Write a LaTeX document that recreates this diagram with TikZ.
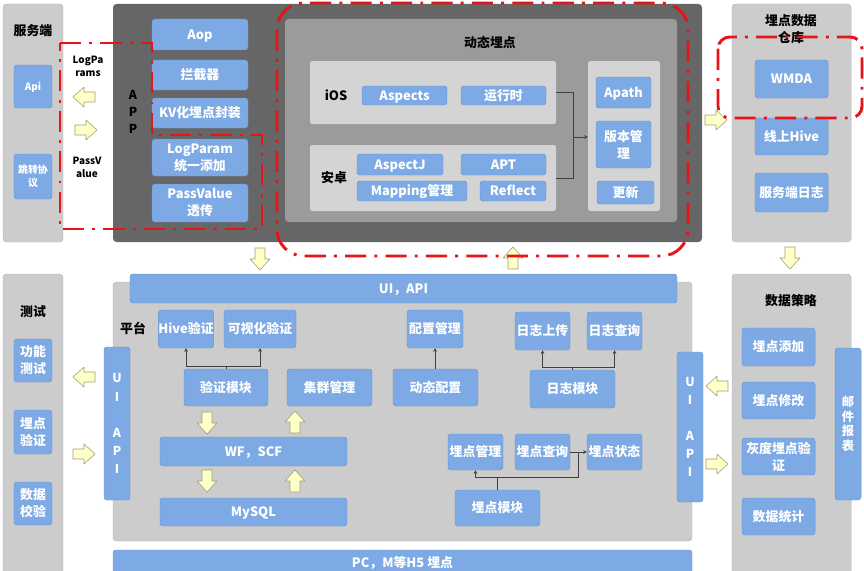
\documentclass[tikz,border=0pt]{standalone}
\usepackage{fontspec}
\setmainfont{Noto Sans CJK SC}
\usetikzlibrary{arrows.meta}

\definecolor{blufill}{RGB}{125,170,228}
\definecolor{bluline}{RGB}{104,148,206}
\definecolor{pnlfill}{RGB}{204,204,204}
\definecolor{pnlline}{RGB}{182,182,182}
\definecolor{appfill}{RGB}{102,102,102}
\definecolor{dynfill}{RGB}{155,155,155}
\definecolor{subfill}{RGB}{212,212,212}
\definecolor{yelfill}{RGB}{255,255,200}
\definecolor{yelline}{RGB}{160,160,120}
\definecolor{redline}{RGB}{230,20,25}

\newcommand{\boxfont}{\fontsize{11pt}{14.5pt}\selectfont}
\newcommand{\ttlfont}{\fontsize{11pt}{14.5pt}\selectfont}
\newcommand{\smlfont}{\fontsize{8.5pt}{11pt}\selectfont}
\newcommand{\vertfont}{\fontsize{10.5pt}{15.4pt}\selectfont}

\tikzset{
  pnl/.style={draw=pnlline, fill=pnlfill, rounded corners=3pt, inner sep=0pt},
  blkbase/.style={draw=bluline, fill=blufill, rounded corners=2.5pt, inner sep=0pt,
    text=white, font=\boxfont\bfseries},
  blk/.style={blkbase, text height=9pt, text depth=1pt},
  blkm/.style={blkbase, align=center},
  ttl/.style={font=\ttlfont\bfseries, align=center},
  con/.style={draw=black!75, line width=0.6pt, -{Stealth[length=3pt,width=3pt]}},
  redbox/.style={draw=redline, line width=2.5pt, dash pattern=on 18pt off 7pt on 2.5pt off 7pt},
  yarr/.style={draw=yelline, fill=yelfill, line width=0.5pt, line join=round},
}
% box from corner (x1,y1) to corner (x2,y2), in pixels of the picture
\newcommand{\bx}[7]{\node[#1, minimum width={(#5-#3)*0.3mm}, minimum height={(#6-#4)*0.3mm}]
  (#2) at ({(#3+#5)/2},{(#4+#6)/2}) {#7};}
% block arrow: centre x, centre y, direction (0 right, 90 up, 180 left, 270 down)
\newcommand{\yelarrow}[3]{\draw[yarr, shift={(#1,#2)}, rotate=#3]
  (-11,-5)--(0,-5)--(0,-10)--(11,0)--(0,10)--(0,5)--(-11,5)--cycle;}

\begin{document}
\begin{tikzpicture}[x=0.3mm,y=-0.3mm]
  \useasboundingbox (0,0) rectangle (864,570);
  \clip (0,0) rectangle (864,570);

  % server side
  \bx{pnl}{srv}{3}{4}{63}{242}{}
  \node[ttl] (srvt) at (33,31) {服务端};
  \bx{blk, font=\smlfont\bfseries, text height=7pt, text depth=0.8pt}{api}{14}{65}{52}{108}{Api}
  \bx{blkm, font=\smlfont\bfseries}{jump}{14}{154}{52}{199}{跳转协\\议}
  \node[font=\smlfont\bfseries, align=center] (lpar) at (88,66) {LogPa\\rams};
  \node[font=\smlfont\bfseries, align=center] (pval) at (87,167) {PassV\\alue};
  \yelarrow{84}{97}{180}
  \yelarrow{86}{130}{0}

  % app
  \bx{pnl, draw=none, fill=appfill}{app}{113}{4}{702}{242}{}
  \node[font=\vertfont\bfseries, align=center, inner sep=0pt] (appt) at (133,112) {A\\[-1pt]P\\[-1pt]P};
  \bx{blk}{aop}{152}{19}{248}{50}{Aop}
  \bx{blk}{intc}{152}{60}{248}{90}{拦截器}
  \bx{blk}{kv}{152}{98}{248}{128}{KV化埋点封装}
  \bx{blkm}{logp}{152}{139}{248}{176}{LogParam\\统一添加}
  \bx{blkm}{passv}{152}{184}{248}{222}{PassValue\\透传}

  % dynamic tracking
  \bx{pnl, draw=none, fill=dynfill}{dyn}{285}{19}{677}{222}{}
  \node[ttl] (dynt) at (490,43) {动态埋点};
  \bx{pnl, draw=none, fill=subfill, rounded corners=2pt}{iospnl}{310}{61}{556}{124}{}
  \node[ttl] (iost) at (336,95) {iOS};
  \bx{blk}{aspects}{362}{86}{447}{105}{Aspects}
  \bx{blk}{runtime}{461}{86}{546}{105}{运行时}
  \bx{pnl, draw=none, fill=subfill, rounded corners=2pt}{adrpnl}{310}{145}{556}{211}{}
  \node[ttl] (adrt) at (334,178) {安卓};
  \bx{blk}{aspectj}{357}{154}{443}{175}{AspectJ}
  \bx{blk}{apt}{461}{154}{546}{175}{APT}
  \bx{blk}{mapping}{357}{181}{467}{201}{Mapping管理}
  \bx{blk}{reflect}{480}{181}{546}{201}{Reflect}
  \bx{pnl, draw=none, fill=subfill, rounded corners=2pt}{rtpnl}{588}{61}{660}{211}{}
  \bx{blk}{apath}{596}{77}{651}{108}{Apath}
  \bx{blkm}{version}{596}{121}{651}{168}{版本管\\理}
  \bx{blk}{update}{597}{181}{654}{204}{更新}
  \coordinate (jn) at (573,137);
  \draw[con, -] (iospnl.east) -| (jn);
  \draw[con, -] (adrpnl.east) -| (jn);
  \draw[con] (jn) -- (rtpnl.west |- jn);

  % warehouse
  \bx{pnl}{wh}{732}{4}{851}{242}{}
  \node[ttl] (wht) at (791,29) {埋点数据\\仓库};
  \bx{blk}{wmda}{755}{60}{828}{98}{WMDA}
  \bx{blk}{hive}{755}{118}{828}{155}{线上Hive}
  \bx{blk}{srvlog}{755}{173}{828}{212}{服务端日志}
  \yelarrow{716}{120}{0}

  % arrows between rows
  \yelarrow{260}{259}{270}
  \yelarrow{513}{258}{90}
  \yelarrow{790}{258}{270}

  % test
  \bx{pnl}{test}{3}{274}{63}{590}{}
  \node[ttl] (testt) at (33,312) {测试};
  \bx{blkm}{func}{14}{339}{52}{382}{功能\\测试}
  \bx{blkm}{ptchk}{14}{410}{52}{454}{埋点\\验证}
  \bx{blkm}{datachk}{14}{482}{52}{525}{数据\\校验}
  \yelarrow{84}{377}{180}
  \yelarrow{84}{454}{0}

  % platform
  \bx{pnl}{plat}{113}{282}{692}{541}{}
  \bx{blk}{uiapi}{130}{274}{677}{303}{UI，API}
  \node[ttl] (platt) at (133,328) {平台};
  \bx{blkm, font=\vertfont\bfseries}{leftui}{104}{347}{130}{500}{U\\I\\[15.4pt]A\\P\\I}
  \bx{blk}{hivechk}{159}{310}{213}{348}{Hive验证}
  \bx{blk}{vischk}{224}{310}{296}{348}{可视化验证}
  \bx{blk}{chkmod}{184}{369}{268}{406}{验证模块}
  \bx{blk}{cluster}{287}{369}{372}{406}{集群管理}
  \bx{blk}{wfscf}{160}{437}{347}{466}{WF，SCF}
  \bx{blk}{mysql}{160}{498}{347}{526}{MySQL}
  \bx{blk}{cfgmgr}{407}{310}{463}{348}{配置管理}
  \bx{blk}{dyncfg}{393}{369}{478}{406}{动态配置}
  \bx{blk}{logup}{515}{312}{570}{350}{日志上传}
  \bx{blk}{logqry}{587}{312}{642}{350}{日志查询}
  \bx{blk}{logmod}{530}{370}{615}{408}{日志模块}
  \bx{blk}{ptmgr}{448}{434}{503}{470}{埋点管理}
  \bx{blk}{ptqry}{515}{434}{570}{470}{埋点查询}
  \bx{blk}{ptstat}{587}{434}{642}{470}{埋点状态}
  \bx{blk}{ptmod}{455}{490}{540}{526}{埋点模块}
  \bx{blkm, font=\vertfont\bfseries}{rightui}{677}{352}{703}{502}{U\\I\\[15.4pt]A\\P\\I}
  \yelarrow{207}{423}{270}
  \yelarrow{295}{422}{90}
  \yelarrow{207}{481}{270}
  \yelarrow{295}{481}{90}

  \coordinate (chkj) at (226,366);
  \draw[con, -] (chkmod.north) -- (chkj);
  \draw[con] (chkj) -| (hivechk.south);
  \draw[con] (chkj) -| (vischk.south);
  \draw[con] (dyncfg.north -| cfgmgr.south) -- (cfgmgr.south);
  \coordinate (logj) at (572,367);
  \draw[con, -] (logmod.north -| logj) -- (logj);
  \draw[con] (logj) -| (logup.south);
  \draw[con] (logj) -| (logqry.south);
  \coordinate (ptj) at (497,477);
  \coordinate (stj) at (578,452);
  \draw[con, -] (ptmod.north -| ptj) -- (ptj);
  \draw[con] (ptj) -| (ptmgr.south);
  \draw[con, -] (ptj) -| (stj);
  \draw[con, -] (ptqry.east |- stj) -- (stj);
  \draw[con] (stj) -- (ptstat.west |- stj);

  % data strategy
  \bx{pnl}{strat}{732}{274}{851}{590}{}
  \node[ttl] (stratt) at (791,301) {数据策略};
  \bx{blk}{ptadd}{742}{328}{815}{366}{埋点添加}
  \bx{blk}{ptedit}{742}{382}{815}{419}{埋点修改}
  \bx{blkm}{gray}{742}{438}{815}{475}{灰度埋点验\\证}
  \bx{blk}{stats}{742}{498}{815}{535}{数据统计}
  \bx{blkm, font=\vertfont\bfseries}{mail}{835}{348}{861}{500}{邮\\[-3pt]件\\[-3pt]报\\[-3pt]表}
  \yelarrow{717}{386}{180}
  \yelarrow{717}{464}{0}

  % bottom bar
  \bx{blk}{h5}{113}{550}{692}{575}{PC，M等H5 埋点}

  % red marks
  \draw[redbox] (60,43) -- (152,43) -- (152,135) -- (262,135) -- (262,229) -- (60,229) -- cycle;
  \draw[redbox, rounded corners=8mm] (277,3) rectangle (688,256);
  \draw[redbox, rounded corners=3.5mm] (718,37) rectangle (862,118);
\end{tikzpicture}
\end{document}
